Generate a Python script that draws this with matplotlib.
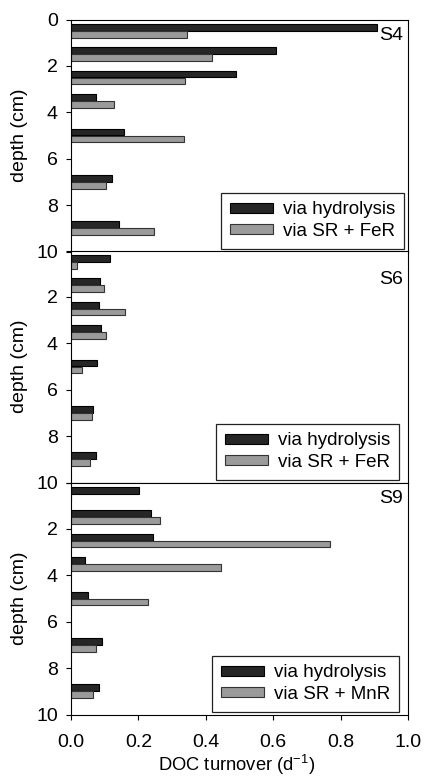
import numpy as np
import matplotlib
matplotlib.use("Agg")
import matplotlib.pyplot as plt
from matplotlib.patches import Patch

plt.rcParams['font.family'] = ['Liberation Sans', 'DejaVu Sans']

depths = [0.5, 1.5, 2.5, 3.5, 5.0, 7.0, 9.0]

stations = ["S4", "S6", "S9"]
hydrolysis_s4 = [0.908, 0.608, 0.490, 0.074, 0.156, 0.123, 0.143]
reduction_s4 = [0.345, 0.417, 0.339, 0.129, 0.336, 0.105, 0.246]
hydrolysis_s6 = [0.115, 0.087, 0.082, 0.088, 0.077, 0.066, 0.075]
reduction_s6 = [0.018, 0.099, 0.160, 0.103, 0.034, 0.063, 0.057]
hydrolysis_s9 = [0.202, 0.236, 0.244, 0.041, 0.050, 0.093, 0.082]
reduction_s9 = [0.0, 0.263, 0.768, 0.446, 0.229, 0.073, 0.066]

legend_labels = [
    ("via hydrolysis", "via SR + FeR"),
    ("via hydrolysis", "via SR + FeR"),
    ("via hydrolysis", "via SR + MnR"),
]
hydro_all = [hydrolysis_s4, hydrolysis_s6, hydrolysis_s9]
red_all = [reduction_s4, reduction_s6, reduction_s9]

dark = "#262626"
grey = "#9a9a9a"
bar_h = 0.3
fs = 14

fig = plt.figure(figsize=(4.24, 7.78), dpi=100)
left, width = 71 / 424, 337 / 424
tops = [19.5, 250.5, 482.5]
ph = 232.0
station_label_offset = [8, 21, 7]   # px below the top of each panel
legend_right_gap = [4, 9, 9]        # px between legend and right spine

y = np.array(depths)
for i, st in enumerate(stations):
    bottom = 1 - (tops[i] + ph) / 778
    ax = fig.add_axes([left, bottom, width, ph / 778])
    ax.barh(y - bar_h / 2, hydro_all[i], height=bar_h, color=dark,
            edgecolor="black", linewidth=0.8)
    ax.barh(y + bar_h / 2, red_all[i], height=bar_h, color=grey,
            edgecolor="#333333", linewidth=0.8)
    ax.set_xlim(0, 1.0)
    ax.set_ylim(10, 0)
    ax.set_yticks([0, 2, 4, 6, 8, 10])
    first = "0" if i == 0 else ""
    ax.set_yticklabels([first, "2", "4", "6", "8", "10"])
    ax.tick_params(axis="y", direction="out", length=3.5, width=0.8,
                   labelsize=fs, colors="black", pad=6)
    ax.tick_params(axis="x", direction="out", length=3.5, width=0.8,
                   labelsize=fs, colors="black", pad=10.5)
    for s in ax.spines.values():
        s.set_linewidth(0.8)
    ax.text(1 - 5 / 337, 1 - station_label_offset[i] / ph, st,
            transform=ax.transAxes, ha="right", va="top", fontsize=fs)
    if i < 2:
        ax.set_xticks([])
    else:
        ax.set_xticks([0, 0.2, 0.4, 0.6, 0.8, 1.0])
        ax.set_xticklabels(["0.0", "0.2", "0.4", "0.6", "0.8", "1.0"])
    fig.text(20 / 424, 1 - (tops[i] + ph / 2) / 778, "depth (cm)",
             rotation=90, ha="center", va="center", fontsize=fs)
    handles = [Patch(facecolor=dark, edgecolor="black", linewidth=0.8),
               Patch(facecolor=grey, edgecolor="#333333", linewidth=0.8)]
    leg = ax.legend(handles, legend_labels[i], loc="lower right",
                    bbox_to_anchor=(1 - legend_right_gap[i] / 337, 3 / ph),
                    borderaxespad=0, fontsize=13.5, fancybox=False,
                    framealpha=1, edgecolor="#222222", handlelength=2.3,
                    handleheight=0.45, borderpad=0.45, labelspacing=0.25,
                    handletextpad=0.55)
    leg.get_frame().set_linewidth(0.9)

fig.text(left + width / 2 - 3 / 424, 1 - 765 / 778,
         "DOC turnover (d$^{\\mathregular{-1}}$)",
         ha="center", va="center", fontsize=13.2)

fig.savefig("out.png", dpi=100)
